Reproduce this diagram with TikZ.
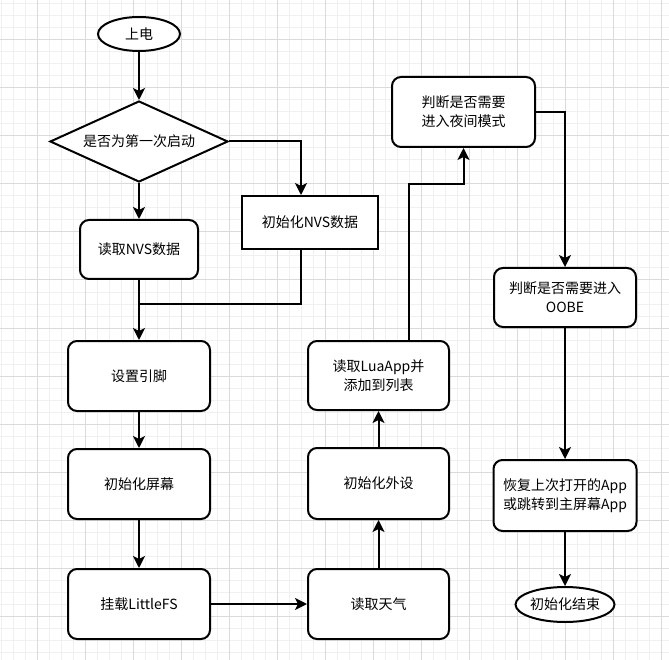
\documentclass[tikz,border=0pt]{standalone}
\usepackage{fontspec}
\newfontfamily\cjk{Noto Sans CJK SC}
\usetikzlibrary{shapes.geometric,arrows.meta}
\definecolor{gminor}{HTML}{F0F0F0}
\definecolor{gmajor}{HTML}{DADADA}
\tikzset{
  every node/.style={font=\cjk\fontsize{14}{19}\selectfont, align=center, inner sep=0pt},
  proc/.style={rectangle, rounded corners=9pt, draw, line width=2pt, fill=white},
  sharpbox/.style={rectangle, draw, line width=2pt, fill=white},
  term/.style={ellipse, draw, line width=2pt, fill=white},
  decision/.style={diamond, aspect=2.17, draw, line width=2pt, fill=white},
  arr/.style={line width=2pt, -{Stealth[length=12pt,width=12pt,inset=3pt]}},
  plainline/.style={line width=2pt},
}
\begin{document}
\begin{tikzpicture}[x=1pt,y=-1pt]
\useasboundingbox (0,0) rectangle (669,660);
\fill[white] (0,0) rectangle (669,660);
% grid
\foreach \x in {1,13,...,661} \draw[gminor, line width=1pt] (\x,0) -- (\x,660);
\foreach \y in {4,16,...,652} \draw[gminor, line width=1pt] (0,\y) -- (669,\y);
\foreach \x in {37,85,...,661} \draw[gmajor, line width=1pt] (\x,0) -- (\x,660);
\foreach \y in {40,88,...,616} \draw[gmajor, line width=1pt] (0,\y) -- (669,\y);

% nodes
\node[term, minimum width=82pt, minimum height=34pt] (start) at (139,34) {上电};
\node[decision, minimum width=178pt, minimum height=81pt] (dec) at (139,141.5) {是否为第一次启动};
\node[proc, minimum width=118pt, minimum height=59pt] (rdnvs) at (139,249.5) {读取NVS数据};
\node[sharpbox, minimum width=136pt, minimum height=53pt] (initnvs) at (310,222.5) {初始化NVS数据};
\node[proc, minimum width=142pt, minimum height=70pt] (pins) at (139,376) {设置引脚};
\node[proc, minimum width=142pt, minimum height=70pt] (screen) at (139,484) {初始化屏幕};
\node[proc, minimum width=142pt, minimum height=70pt] (mount) at (139,604) {挂载LittleFS};
\node[proc, minimum width=141pt, minimum height=70pt] (weather) at (378.5,604) {读取天气};
\node[proc, minimum width=141pt, minimum height=71pt] (periph) at (378.5,483.5) {初始化外设};
\node[proc, minimum width=141pt, minimum height=69pt] (lua) at (378.5,375.5) {读取LuaApp并\\添加到列表};
\node[proc, minimum width=143pt, minimum height=70pt] (night) at (463.5,112) {判断是否需要\\进入夜间模式};
\node[proc, minimum width=142pt, minimum height=59pt] (oobe) at (565,297.5) {判断是否需要进入\\OOBE};
\node[proc, minimum width=143pt, minimum height=71pt] (resume) at (565,495.5) {恢复上次打开的App\\或跳转到主屏幕App};
\node[term, minimum width=84pt, minimum height=35pt] (stop) at (565,604.5) {初始化结束};

\coordinate (join) at (139,304);
\coordinate (bend) at (409,184);

% connectors
\draw[arr] (start.south) -- (dec.north);
\draw[arr] (dec.south) -- (rdnvs.north);
\draw[arr] (dec.east) -| ([xshift=-9pt]initnvs.north);
\draw[arr] (rdnvs.south) -- (pins.north);
\draw[plainline] ([xshift=-9pt]initnvs.south) |- (join);
\draw[arr] (pins.south) -- (screen.north);
\draw[arr] (screen.south) -- (mount.north);
\draw[arr] (mount.east) -- (weather.west);
\draw[arr] (weather.north) -- (periph.south);
\draw[arr] (periph.north) -- (lua.south);
\draw[arr] ([xshift=30.5pt]lua.north) -- (bend) -| (night.south);
\draw[arr] (night.east) -| (oobe.north);
\draw[arr] (oobe.south) -- (resume.north);
\draw[arr] (resume.south) -- (stop.north);
\end{tikzpicture}
\end{document}
